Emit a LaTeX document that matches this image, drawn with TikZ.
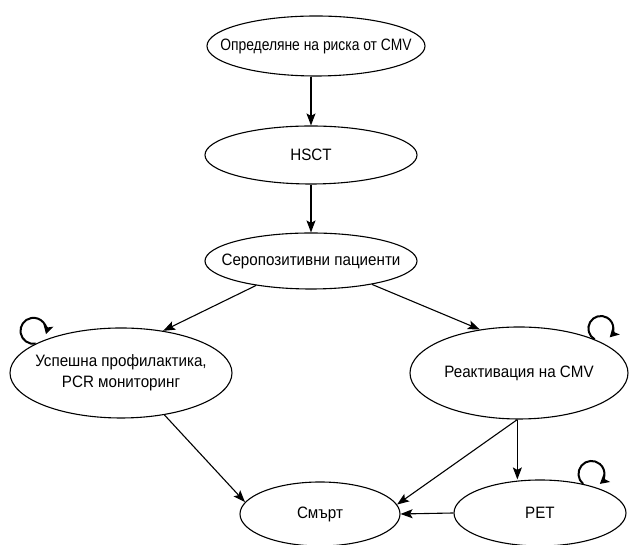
\documentclass[tikz,border=0pt]{standalone}
\usepackage{fontspec}
\setmainfont[FakeStretch=0.92]{Liberation Sans}
\newfontfamily\narrowf[FakeStretch=0.84]{Liberation Sans}
\usetikzlibrary{shapes.geometric,arrows.meta}
\tikzset{
  st/.style={ellipse, draw, line width=1.1pt, inner sep=0pt},
  ar/.style={line width=1.1pt, -{Stealth[length=12pt,width=9pt,inset=2.5pt]}},
  loopar/.style={line width=2pt, -{Stealth[length=9pt,width=10pt,inset=2pt]}},
  lab/.style={font=\fontsize{16.5}{21}\selectfont, align=center}
}
\begin{document}
\begin{tikzpicture}[x=1pt,y=1pt]
\useasboundingbox (0,0) rectangle (630,545);
\node[st, minimum width=218pt, minimum height=60pt, label={[lab]center:\narrowf Определяне на риска от CMV}] (top) at (316,499) {};
\node[st, minimum width=212pt, minimum height=58pt, label={[lab]center:HSCT}] (hsct) at (311,390) {};
\node[st, minimum width=212pt, minimum height=56pt, label={[lab]center:Серопозитивни пациенти}] (sero) at (311,284) {};
\node[st, minimum width=222pt, minimum height=90pt, label={[lab]center:Успешна профилактика,\\PCR мониторинг}] (usp) at (121,172) {};
\node[st, minimum width=218pt, minimum height=92pt, label={[lab]center:Реактивация на CMV}] (react) at (519,172) {};
\node[st, minimum width=160pt, minimum height=64pt, label={[lab]center:Смърт}] (smart) at (320,31) {};
\node[st, minimum width=172pt, minimum height=66pt, label={[lab]center:PET}] (pet) at (540,32) {};

\draw[ar] (hsct.north |- top.south) -- (hsct.north);
\draw[ar] (hsct.south) -- (sero.north);
\draw[ar] (sero.204) -- (usp.45);
\draw[ar] (sero.339) -- (react.132);
\draw[ar] (usp.316) -- (smart.171);
\draw[ar] (react.268) -- (smart.7);
\draw[ar] (react.268) -- (react.268 |- pet.north);
\draw[ar] (pet.west) -- (smart.east);

\draw[loopar] (usp.161) arc[start angle=280, end angle=-15, radius=13];
\draw[loopar] (react.24) arc[start angle=240, end angle=-45, radius=12.5];
\draw[loopar] (pet.34) arc[start angle=230, end angle=-50, radius=13];
\end{tikzpicture}
\end{document}
